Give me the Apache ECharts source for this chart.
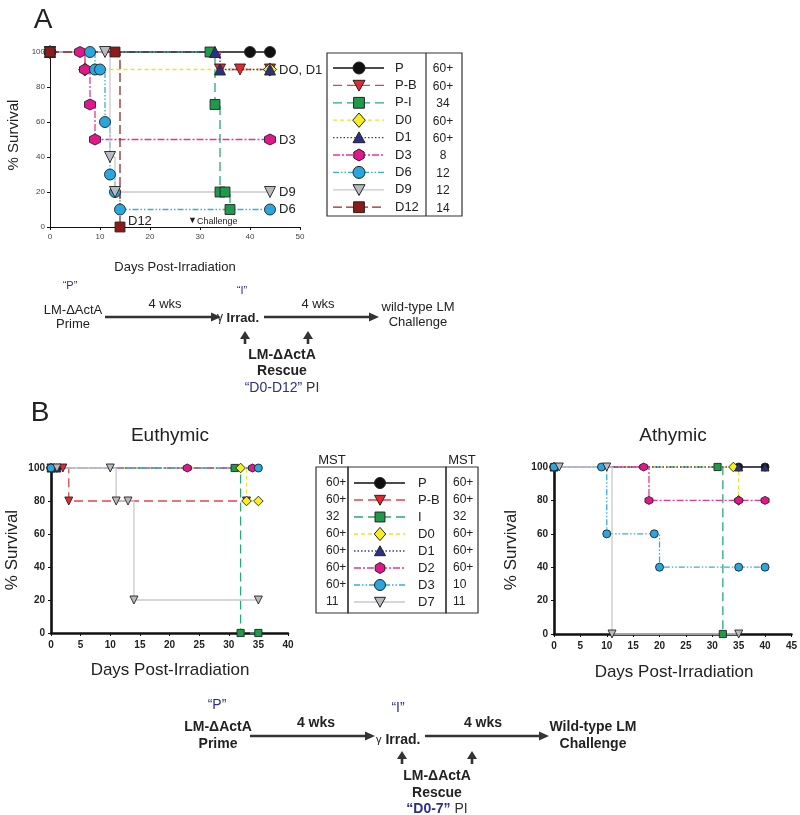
<!DOCTYPE html>
<html>
<head>
<meta charset="utf-8">
<script src="https://cdn.jsdelivr.net/npm/echarts@6/dist/echarts.min.js"></script>
<style>
html,body{margin:0;padding:0;background:#fff;}
#main{width:800px;height:815px;}
</style>
</head>
<body>
<div id="main"></div>
<script>
// ---------- DATA ----------
// Panel A (days, % survival)
const A_P   = [[0,100],[40,100],[44,100]];
const A_PB  = [[0,100],[34,90],[38,90],[44,90]];
const A_PI  = [[0,100],[32,100],[33,70],[34,20],[35,20],[36,10]];
const A_D0  = [[0,100],[7,90],[44,90]];
const A_D1  = [[0,100],[33,100],[34,90],[44,90]];
const A_D3  = [[0,100],[6,100],[7,90],[8,70],[9,50],[44,50]];
const A_D6  = [[0,100],[8,100],[9,90],[10,90],[11,60],[12,30],[13,20],[14,10],[44,10]];
const A_D9  = [[0,100],[11,100],[12,40],[13,20],[44,20]];
const A_D12 = [[0,100],[13,100],[14,0]];
const legendA_names = ['P','P-B','P-I','D0','D1','D3','D6','D9','D12'];
const legendA_mst   = ['60+','60+','34','60+','60+','8','12','12','14'];

// Panel B Euthymic
const E_P  = [[0,100],[1,100]];
const E_PB = [[0,100],[2,100],[3,80],[33,80]];
const E_I  = [[0,100],[31,100],[32,0],[35,0]];
const E_D0 = [[0,100],[32,100],[33,80],[35,80]];
const E_D1 = [[0,100],[1,100]];
const E_D2 = [[0,100],[23,100],[34,100]];
const E_D3 = [[0,100],[35,100]];
const E_D7 = [[1,100],[10,100],[11,80],[13,80],[14,20],[35,20]];

// Panel B Athymic
const T_P  = [[35,100],[40,100]];
const T_I  = [[0,100],[31,100],[32,0]];
const T_D0 = [[0,100],[34,100],[35,80]];
const T_D1 = [[0,100],[35,100],[40,100]];
const T_D2 = [[0,100],[17,100],[18,80],[35,80],[40,80]];
const T_D3 = [[0,100],[9,100],[10,60],[19,60],[20,40],[35,40],[40,40]];
const T_D7 = [[1,100],[10,100],[11,0],[35,0]];

const legendB_names  = ['P','P-B','I','D0','D1','D2','D3','D7'];
const legendB_mstEu  = ['60+','60+','32','60+','60+','60+','60+','11'];
const legendB_mstAth = ['60+','60+','32','60+','60+','60+','10','11'];

// ---------- STYLES ----------
const FF = "'Liberation Sans', Arial, Helvetica, sans-serif";
const NAVY = '#2b2f86';
const HEX = 'path://M0,-10L8.66,-5L8.66,5L0,10L-8.66,5L-8.66,-5Z';
const ST = {
  P:   {fill:'#111111', line:'#111111', dash:'solid', sym:'circle', rot:0, g:'circle'},
  PB:  {fill:'#e8262e', line:'#e4434b', dash:[9,5], sym:'triangle', rot:180, g:'tridown'},
  PI:  {fill:'#1f9a4a', line:'#2aa872', dash:[9,5], sym:'rect', rot:0, g:'rect'},
  D0:  {fill:'#f7ee1c', line:'#eee52a', dash:[4,3], sym:'diamond', rot:0, g:'diamond'},
  D1:  {fill:'#2b2f86', line:'#3a3f9e', dash:[1.5,2], sym:'triangle', rot:0, g:'triup'},
  MAG: {fill:'#e3168c', line:'#e0389a', dash:[7,2,2,2], sym:HEX, rot:0, g:'hex'},
  CY:  {fill:'#2aa6df', line:'#36aed8', dash:[6,2,1.5,2,1.5,2], sym:'circle', rot:0, g:'circle'},
  GR:  {fill:'#b9b9c0', line:'#c9c9c9', dash:'solid', sym:'triangle', rot:180, g:'tridown'},
  D12: {fill:'#8e1b1b', line:'#9a2424', dash:[9,4], sym:'rect', rot:0, g:'rect'}
};

function mkSeries(name, data, st, gi, size) {
  let s = size;
  if (st.g === 'diamond') s = size * 1.2;
  if (st.g === 'rect') s = size * 0.9;
  return {
    name: name, type: 'line', step: 'end', data: data,
    xAxisIndex: gi, yAxisIndex: gi,
    symbol: st.sym, symbolRotate: st.rot, symbolSize: s,
    showAllSymbol: true, animation: false, clip: false,
    itemStyle: {color: st.fill, borderColor: '#222', borderWidth: 0.9},
    lineStyle: {color: st.line, width: 1.3, type: st.dash},
    emphasis: {disabled: true}
  };
}

// ---------- GRAPHIC HELPERS ----------
const G = [];
function txt(x, y, t, size, opts) {
  opts = opts || {};
  G.push({type:'text', x:x, y:y, rotation: opts.rot || 0, z:10,
    style:{text:t, fontFamily:FF, fontSize:size, fontWeight:opts.bold?'bold':'normal',
      fill:opts.color||'#222', align:opts.align||'center', verticalAlign:'middle', rich:opts.rich}});
}
function ln(x1,y1,x2,y2,color,w,dash){
  G.push({type:'line', z:10, shape:{x1:x1,y1:y1,x2:x2,y2:y2},
    style:{stroke:color, lineWidth:w, lineDash:dash||null}});
}
function rectBox(x,y,w,h){
  G.push({type:'rect', z:10, shape:{x:x,y:y,width:w,height:h}, style:{fill:'none', stroke:'#333', lineWidth:1.2}});
}
function marker(kind, cx, cy, s, fill){
  const h = s/2; let el;
  if (kind === 'circle') el = {type:'circle', shape:{cx:cx, cy:cy, r:h}};
  else if (kind === 'rect') el = {type:'rect', shape:{x:cx-h*0.9, y:cy-h*0.9, width:s*0.9, height:s*0.9}};
  else {
    let pts;
    if (kind === 'diamond') pts = [[cx,cy-h*1.2],[cx+h*1.05,cy],[cx,cy+h*1.2],[cx-h*1.05,cy]];
    else if (kind === 'tridown') pts = [[cx-h,cy-h*0.85],[cx+h,cy-h*0.85],[cx,cy+h*0.95]];
    else if (kind === 'triup') pts = [[cx-h,cy+h*0.85],[cx+h,cy+h*0.85],[cx,cy-h*0.95]];
    else { pts = []; for (let i=0;i<6;i++){ const a = -Math.PI/2 + i*Math.PI/3; pts.push([cx+h*Math.cos(a), cy+h*Math.sin(a)]); } }
    el = {type:'polygon', shape:{points:pts}};
  }
  el.z = 11;
  el.style = {fill:fill, stroke:'#222', lineWidth:1};
  G.push(el);
}
function arrowH(x1,x2,y){
  ln(x1,y,x2-7,y,'#333',2.6);
  G.push({type:'polygon', z:10, shape:{points:[[x2,y],[x2-10,y-4.5],[x2-10,y+4.5]]}, style:{fill:'#333'}});
}
function arrowUp(x,tip,base){
  ln(x,base,x,tip+6,'#333',2.6);
  G.push({type:'polygon', z:10, shape:{points:[[x,tip],[x-5,tip+8],[x+5,tip+8]]}, style:{fill:'#333'}});
}

// ---------- PANEL A LEGEND ----------
const stA = [ST.P, ST.PB, ST.PI, ST.D0, ST.D1, ST.MAG, ST.CY, ST.GR, ST.D12];
rectBox(327, 53, 135, 163);
ln(426, 53, 426, 216, '#333', 1.2);
legendA_names.forEach((n,i)=>{
  const y = 68 + i*17.4;
  const st = stA[i];
  ln(333, y, 384, y, st.line, 1.3, st.dash === 'solid' ? null : st.dash);
  marker(st.g, 359, y, 12, st.fill);
  txt(395, y, n, 13, {align:'left'});
  txt(443, y+1, legendA_mst[i], 12);
});

// ---------- PANEL B LEGEND ----------
const stB = [ST.P, ST.PB, ST.PI, ST.D0, ST.D1, ST.MAG, ST.CY, ST.GR];
rectBox(316, 467, 32, 146);
rectBox(348, 467, 98, 146);
rectBox(446, 467, 32, 146);
txt(332, 460, 'MST', 13);
txt(462, 460, 'MST', 13);
legendB_names.forEach((n,i)=>{
  const y = 483 + i*17;
  const st = stB[i];
  ln(354, y, 405, y, st.line, 1.3, st.dash === 'solid' ? null : st.dash);
  marker(st.g, 380, y, 11, st.fill);
  txt(418, y, n, 13, {align:'left'});
  txt(326, y, legendB_mstEu[i], 12, {align:'left'});
  txt(453, y, legendB_mstAth[i], 12, {align:'left'});
});

// ---------- PANEL LABELS / AXIS TITLES ----------
txt(43, 20, 'A', 28);
txt(40, 413, 'B', 28);
txt(14, 135, '% Survival', 15, {rot: Math.PI/2});
txt(175, 267, 'Days Post-Irradiation', 13);
txt(279, 70, 'DO, D1', 13, {align:'left'});
txt(279, 140, 'D3', 13, {align:'left'});
txt(279, 192, 'D9', 13, {align:'left'});
txt(279, 209, 'D6', 13, {align:'left'});
txt(128, 221, 'D12', 13, {align:'left'});
txt(188, 221, '\u25BC', 9, {align:'left'});
txt(197, 222, 'Challenge', 9, {align:'left'});

txt(170, 436, 'Euthymic', 19);
txt(673, 436, 'Athymic', 19);
txt(12, 550, '% Survival', 17, {rot: Math.PI/2});
txt(511, 550, '% Survival', 17, {rot: Math.PI/2});
txt(170, 670, 'Days Post-Irradiation', 17);
txt(674, 672, 'Days Post-Irradiation', 17);

// ---------- TIMELINE A ----------
txt(70, 286, '\u201CP\u201D', 11, {color:NAVY});
txt(73, 310, 'LM-\u0394ActA', 13);
txt(73, 324, 'Prime', 13);
arrowH(105, 221, 317);
txt(165, 304, '4 wks', 13);
txt(242, 291, '\u201CI\u201D', 11, {color:NAVY});
txt(217, 318, '{g|\u03B3} {b|Irrad.}', 13, {align:'left', rich:{g:{fontSize:12, fontFamily:FF, fill:'#222'}, b:{fontSize:13, fontWeight:'bold', fontFamily:FF, fill:'#222'}}});
arrowH(264, 379, 317);
txt(318, 304, '4 wks', 13);
txt(418, 307, 'wild-type LM', 13);
txt(418, 322, 'Challenge', 13);
arrowUp(245, 331, 344);
arrowUp(308, 331, 344);
txt(282, 355, 'LM-\u0394ActA', 14, {bold:true});
txt(282, 371, 'Rescue', 14, {bold:true});
txt(282, 388, '{n|\u201CD0-D12\u201D} {p|PI}', 14, {rich:{n:{fontSize:14, fontFamily:FF, fill:NAVY}, p:{fontSize:14, fontFamily:FF, fill:'#333'}}});

// ---------- TIMELINE B ----------
txt(217, 705, '\u201CP\u201D', 14, {color:NAVY});
txt(218, 727, 'LM-\u0394ActA', 14, {bold:true});
txt(218, 744, 'Prime', 14, {bold:true});
arrowH(250, 375, 736);
txt(316, 723, '4 wks', 14, {bold:true});
txt(398, 708, '\u201CI\u201D', 14, {color:NAVY});
txt(376, 740, '{g|\u03B3} {b|Irrad.}', 14, {align:'left', rich:{g:{fontSize:11, fontFamily:FF, fill:'#222'}, b:{fontSize:14, fontWeight:'bold', fontFamily:FF, fill:'#222'}}});
arrowH(425, 549, 736);
txt(483, 723, '4 wks', 14, {bold:true});
txt(593, 727, 'Wild-type LM', 14, {bold:true});
txt(593, 744, 'Challenge', 14, {bold:true});
arrowUp(402, 751, 764);
arrowUp(472, 751, 764);
txt(437, 776, 'LM-\u0394ActA', 14, {bold:true});
txt(437, 793, 'Rescue', 14, {bold:true});
txt(437, 809, '{n|\u201CD0-7\u201D} {p|PI}', 14, {rich:{n:{fontSize:14, fontWeight:'bold', fontFamily:FF, fill:NAVY}, p:{fontSize:14, fontFamily:FF, fill:'#333'}}});

// ---------- AXES ----------
function xAx(gi, max, big){
  return {gridIndex:gi, type:'value', min:0, max:max, interval: big?5:10,
    axisLine:{show:true, onZero:false, lineStyle:{color:'#111', width: big?2.6:1}},
    axisTick:{show:true, length: 3, lineStyle:{color:'#111', width:1}},
    axisLabel:{fontFamily:FF, fontSize: big?10:8, fontWeight: big?'bold':'normal', color: big?'#222':'#444', margin: big?7:6},
    splitLine:{show:false}};
}
function yAx(gi, big){
  return {gridIndex:gi, type:'value', min:0, max:100, interval:20,
    axisLine:{show:true, onZero:false, lineStyle:{color:'#111', width: big?2.6:1}},
    axisTick:{show:true, length:3, lineStyle:{color:'#111', width:1}},
    axisLabel:{fontFamily:FF, fontSize: big?10:8, fontWeight: big?'bold':'normal', color: big?'#222':'#444', margin: big?6:5},
    splitLine:{show:false}};
}

const series = [
  mkSeries('P', A_P, ST.P, 0, 11),
  mkSeries('P-B', A_PB, ST.PB, 0, 11),
  mkSeries('P-I', A_PI, ST.PI, 0, 11),
  mkSeries('D0', A_D0, ST.D0, 0, 11),
  mkSeries('D1', A_D1, ST.D1, 0, 11),
  mkSeries('D3', A_D3, ST.MAG, 0, 11),
  mkSeries('D6', A_D6, ST.CY, 0, 11),
  mkSeries('D9', A_D9, ST.GR, 0, 11),
  mkSeries('D12', A_D12, ST.D12, 0, 11),

  mkSeries('P', E_P, ST.P, 1, 8),
  mkSeries('P-B', E_PB, ST.PB, 1, 8),
  mkSeries('I', E_I, ST.PI, 1, 8),
  mkSeries('D0', E_D0, ST.D0, 1, 8),
  mkSeries('D1', E_D1, ST.D1, 1, 8),
  mkSeries('D2', E_D2, ST.MAG, 1, 8),
  mkSeries('D3', E_D3, ST.CY, 1, 8),
  mkSeries('D7', E_D7, ST.GR, 1, 8),

  mkSeries('P', T_P, ST.P, 2, 8),
  mkSeries('I', T_I, ST.PI, 2, 8),
  mkSeries('D0', T_D0, ST.D0, 2, 8),
  mkSeries('D1', T_D1, ST.D1, 2, 8),
  mkSeries('D2', T_D2, ST.MAG, 2, 8),
  mkSeries('D3', T_D3, ST.CY, 2, 8),
  mkSeries('D7', T_D7, ST.GR, 2, 8)
];

const chart = echarts.init(document.getElementById('main'), null, {renderer:'canvas'});
chart.setOption({
  backgroundColor:'#ffffff',
  animation:false,
  grid:[
    {left:50, top:52, width:250, height:175},
    {left:51, top:468, width:237, height:165},
    {left:554, top:467, width:241, height:167}
  ],
  xAxis:[xAx(0,50,false), xAx(1,40,true), xAx(2,45,true)],
  yAxis:[yAx(0,false), yAx(1,true), yAx(2,true)],
  series: series,
  graphic: G
});
</script>
</body>
</html>
